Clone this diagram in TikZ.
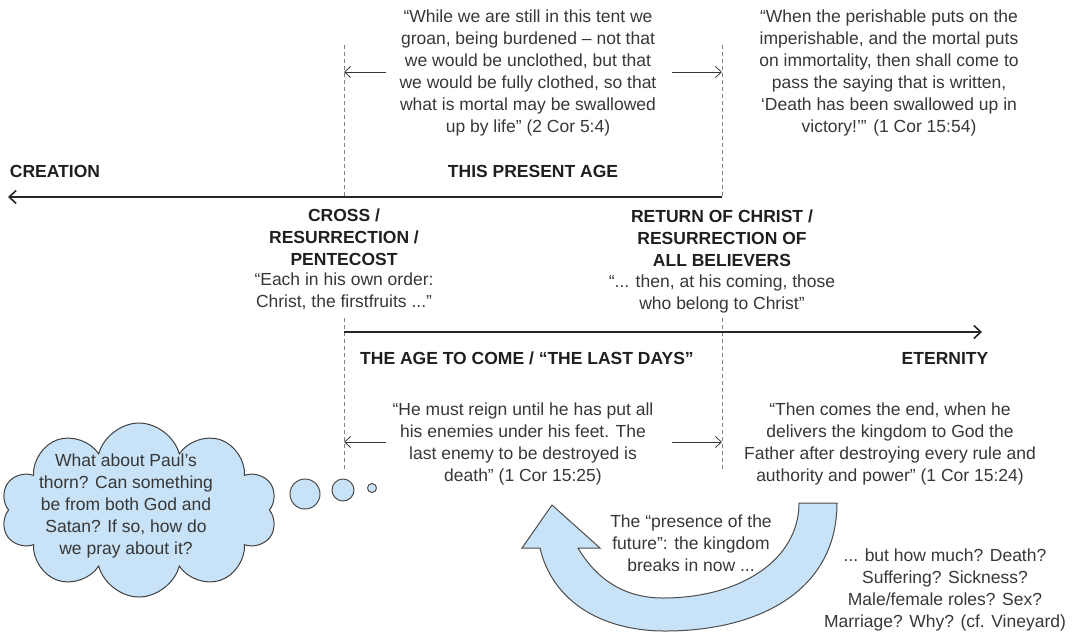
\documentclass[tikz,border=0pt]{standalone}
\usepackage{fontspec}
\setmainfont{Liberation Sans}
\usetikzlibrary{arrows,arrows.meta,positioning,shapes.symbols}

\definecolor{cloudblue}{RGB}{200,226,247}
\definecolor{inkgray}{RGB}{55,55,55}

\begin{document}
\begin{tikzpicture}[x=1pt,y=-1pt,auto,node distance=7pt]

      \useasboundingbox (0,0) rectangle (1081,633);

      \tikzstyle{every node}=[font=\fontsize{17.5}{22}\selectfont, text=inkgray, inner sep=0pt, align=center]
      \tikzstyle{heading}=[font=\fontsize{17.5}{22}\selectfont\bfseries, text=black!88]
      \tikzstyle{marker}=[draw=gray, dash pattern=on 4pt off 3pt]
      \tikzstyle{timeline}=[draw=black!85, line width=1.6pt, -{Straight Barb[length=7pt,width=13pt]}]
      \tikzstyle{span}=[draw=inkgray, line width=0.8pt, -{Straight Barb[length=6pt,width=11pt]}]
      \tikzstyle{thought}=[circle, draw=black!70, fill=cloudblue, line width=1pt]
      % \tikzstyle{every quote}=[text width=3in]

      % dashed markers at the cross and at the return
      \coordinate (crossTop) at (344,45);
      \coordinate (crossMid) at (344,197);
      \coordinate (crossLow) at (344,318);
      \coordinate (crossBot) at (344,470);
      \coordinate (returnTop) at (722,45);
      \coordinate (returnMid) at (722,197);
      \coordinate (returnLow) at (722,318);
      \coordinate (returnBot) at (722,470);

      \coordinate (creationTip) at (8,197);
      \coordinate (ageStart) at (344,332);
      \coordinate (eternityTip) at (982,332);

      \node (tentQuote) at (528,73) {“While we are still in this tent we\\groan, being burdened -- not that\\we would be unclothed, but that\\we would be fully clothed, so that\\what is mortal may be swallowed\\up by life” (2 Cor 5:4)};
      \node (victoryQuote) at (889,73) {“When the perishable puts on the\\imperishable, and the mortal puts\\on immortality, then shall come to\\pass the saying that is written,\\‘Death has been swallowed up in\\victory!’” (1 Cor 15:54)};

      \node[heading] (creation) at (55,171) {CREATION};
      \node[heading] (presentAge) at (533,171) {THIS PRESENT AGE};

      \node[heading] (crossHead) at (344,237) {CROSS /\\RESURRECTION /\\PENTECOST};
      \node (crossQuote) [below=of crossHead] {“Each in his own order:\\Christ, the firstfruits ...”};

      \node[heading] (returnHead) at (722,238) {RETURN OF CHRIST /\\RESURRECTION OF\\ALL BELIEVERS};
      \node (returnQuote) [below=8pt of returnHead] {“... then, at his coming, those\\who belong to Christ”};

      \node[heading, anchor=west] (ageToCome) at (360,358) {THE AGE TO COME / “THE LAST DAYS”};
      \node[heading] (eternity) at (945,358) {ETERNITY};

      \node (reignQuote) at (523,444) {“He must reign until he has put all\\his enemies under his feet. The\\last enemy to be destroyed is\\death” (1 Cor 15:25)};
      \node (endQuote) at (890,444) {“Then comes the end, when he\\delivers the kingdom to God the\\Father after destroying every rule and\\authority and power” (1 Cor 15:24)};

      \coordinate (tentLeft) at (386,72);
      \coordinate (tentRight) at (672,72);
      \coordinate (reignLeft) at (386,442);
      \coordinate (reignRight) at (672,442);

      \node[cloud, cloud puffs=10, cloud ignores aspect, draw=black!75, fill=cloudblue, line width=1pt, minimum width=276pt, minimum height=174pt] (thornCloud) at (139,510) {};
      \node (thornText) at (126,506) {What about Paul’s\\thorn? Can something\\be from both God and\\Satan? If so, how do\\we pray about it?};
      \node[thought, minimum size=30pt] (bubbleA) at (305,494) {};
      \node[thought, minimum size=22pt] (bubbleB) at (343,490) {};
      \node[thought, minimum size=9pt] (bubbleC) at (372,488) {};

      % the kingdom breaking in
      \filldraw[fill=cloudblue, draw=black!70, line width=1pt] (837,503) .. controls (837,590) and (760,631) .. (665,631) .. controls (600,631) and (552,600) .. (540,548) -- (522,548) -- (552,505) -- (600,548) -- (578,548) .. controls (597,580) and (625,598) .. (663,598) .. controls (740,598) and (799,560) .. (799,503) -- cycle;
      \node (presence) at (691,543) {The “presence of the\\future”: the kingdom\\breaks in now ...};

      \node (howMuch) at (945,590) {... but how much? Death?\\Suffering? Sickness?\\Male/female roles? Sex?\\Marriage? Why? (cf. Vineyard)};

      \draw [marker] (crossTop) -- (crossMid);
      \draw [marker] (crossLow) -- (crossBot);
      \draw [marker] (returnTop) -- (returnMid);
      \draw [marker] (returnLow) -- (returnBot);
      \draw [timeline] (returnMid) -- (creationTip);
      \draw [timeline] (ageStart) -- (eternityTip);
      \draw [span] (tentLeft) -- (crossTop |- tentLeft);
      \draw [span] (tentRight) -- (returnTop |- tentRight);
      \draw [span] (reignLeft) -- (crossTop |- reignLeft);
      \draw [span] (reignRight) -- (returnTop |- reignRight);
    \end{tikzpicture}
\end{document}
